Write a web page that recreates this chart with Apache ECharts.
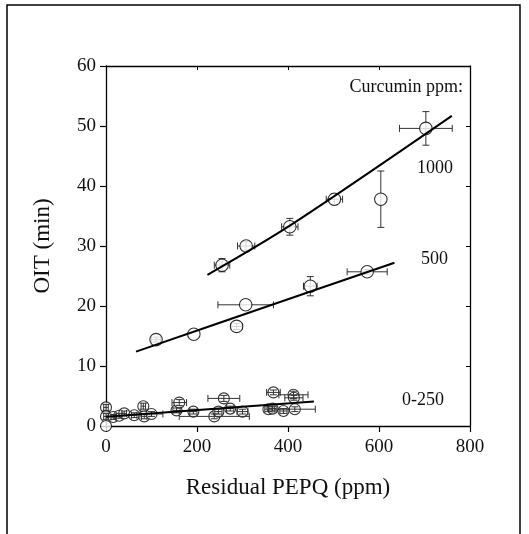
<!DOCTYPE html>
<html>
<head>
<meta charset="utf-8">
<script src="https://cdn.jsdelivr.net/npm/echarts@6/dist/echarts.min.js"></script>
<style>
html,body{margin:0;padding:0;background:#fff;}
#c{width:529px;height:534px;}
</style>
</head>
<body>
<div id="c"></div>
<script>
// ---- data ----
const xTicks = [0, 200, 400, 600, 800];
const yTicks = [0, 10, 20, 30, 40, 50, 60];

// Curcumin 1000 ppm
const s1000_x    = [255, 308, 404, 502, 604, 703];
const s1000_y    = [26.8, 30.0, 33.2, 37.8, 37.8, 49.6];
const s1000_xerr = [17, 19, 18, 18, 0, 58];
const s1000_yerr = [1.1, 0.7, 1.4, 0.9, 4.7, 2.8];

// Curcumin 500 ppm
const s500_x    = [110, 193, 287, 307, 449, 574];
const s500_y    = [14.4, 15.3, 16.6, 20.2, 23.3, 25.7];
const s500_xerr = [10, 0, 12, 61, 15, 44];
const s500_yerr = [0.4, 0, 0.5, 0, 1.6, 0.4];

// Curcumin 0-250 ppm
const s250_x    = [0, 0, 0, 16, 29, 40, 62, 82, 84, 100, 155, 161, 192, 238, 247, 259, 273, 300, 357, 366, 368, 390, 412, 413, 415];
const s250_y    = [3.1, 1.6, 0.0, 1.5, 1.7, 2.1, 1.8, 3.3, 1.6, 2.0, 2.6, 3.9, 2.4, 1.6, 2.4, 4.6, 2.9, 2.4, 2.8, 2.9, 5.6, 2.5, 5.2, 4.7, 2.8];
const s250_xerr = [5, 5, 0, 5, 6, 5, 6, 5, 6, 25, 8, 16, 8, 77, 8, 35, 8, 12, 8, 8, 15, 8, 32, 20, 45];
const s250_yerr = [0.5, 0.5, 0, 0.4, 0.4, 0.4, 0.4, 0.5, 0.4, 0.4, 0.4, 0.5, 0.4, 0.4, 0.4, 0.5, 0.4, 0.4, 0.4, 0.4, 0.4, 0.4, 0.6, 0.4, 0.4];

// fitted lines
const fit1000_x = [223, 404, 760];
const fit1000_y = [25.2, 33.4, 51.7];
const fit500_x  = [66, 368, 634];
const fit500_y  = [12.4, 20.3, 27.2];
const fit250_x  = [0, 457];
const fit250_y  = [1.55, 4.1];

const labelCurcumin = 'Curcumin ppm:';
const groupLabels = ['1000', '500', '0-250'];

// ---- build ----
const FONT = '"Liberation Serif", "Times New Roman", serif';
const zip = (a, b) => a.map((v, i) => [v, b[i]]);
const zip4 = (a, b, c, d) => a.map((v, i) => [v, b[i], c[i], d[i]]);

function errRender(params, api) {
  const x = api.value(0), y = api.value(1), ex = api.value(2), ey = api.value(3);
  const cap = 3.5;
  const st = { stroke: '#333', lineWidth: 1, fill: null };
  const children = [];
  if (ex > 0) {
    const l = api.coord([x - ex, y]), r = api.coord([x + ex, y]);
    children.push({ type: 'line', shape: { x1: l[0], y1: l[1], x2: r[0], y2: r[1] }, style: st });
    children.push({ type: 'line', shape: { x1: l[0], y1: l[1] - cap, x2: l[0], y2: l[1] + cap }, style: st });
    children.push({ type: 'line', shape: { x1: r[0], y1: r[1] - cap, x2: r[0], y2: r[1] + cap }, style: st });
  }
  if (ey > 0) {
    const t = api.coord([x, y + ey]), b = api.coord([x, y - ey]);
    children.push({ type: 'line', shape: { x1: t[0], y1: t[1], x2: b[0], y2: b[1] }, style: st });
    children.push({ type: 'line', shape: { x1: t[0] - cap, y1: t[1], x2: t[0] + cap, y2: t[1] }, style: st });
    children.push({ type: 'line', shape: { x1: b[0] - cap, y1: b[1], x2: b[0] + cap, y2: b[1] }, style: st });
  }
  return { type: 'group', children };
}

function errSeries(x, y, ex, ey, z) {
  return {
    type: 'custom', renderItem: errRender, clip: false, z: z,
    data: zip4(x, y, ex, ey), encode: { x: 0, y: 1 }, silent: true
  };
}
function dotSeries(x, y, size, z) {
  return {
    type: 'scatter', data: zip(x, y), symbol: 'circle', symbolSize: size, clip: false, z: z,
    itemStyle: { color: '#fff', borderColor: '#000', borderWidth: 1.1 }, silent: true
  };
}
function fitSeries(x, y) {
  return {
    type: 'line', data: zip(x, y), smooth: 0.3, showSymbol: false, symbol: 'none', z: 5, clip: false,
    lineStyle: { color: '#000', width: 2 }, silent: true
  };
}

const axisCommon = {
  type: 'value', splitLine: { show: false },
  axisLine: { show: true, onZero: false, lineStyle: { color: '#000', width: 1.3 } }
};

const option = {
  animation: false,
  backgroundColor: '#fff',
  grid: { left: 106, top: 66, width: 364, height: 360, containLabel: false },
  xAxis: [
    Object.assign({}, axisCommon, {
      position: 'bottom', min: xTicks[0], max: xTicks[xTicks.length - 1], interval: xTicks[1] - xTicks[0],
      axisTick: { show: true, inside: false, length: 6, lineStyle: { color: '#000', width: 1.2 } },
      axisLabel: { color: '#111', fontFamily: FONT, fontSize: 19, margin: 12 },
      name: 'Residual PEPQ (ppm)', nameLocation: 'middle', nameGap: 50,
      nameTextStyle: { color: '#111', fontFamily: FONT, fontSize: 23 }
    }),
    Object.assign({}, axisCommon, {
      position: 'top', min: xTicks[0], max: xTicks[xTicks.length - 1], interval: xTicks[1] - xTicks[0],
      axisTick: { show: true, inside: true, length: 4, lineStyle: { color: '#000', width: 1 } },
      axisLabel: { show: false }
    })
  ],
  yAxis: [
    Object.assign({}, axisCommon, {
      position: 'left', min: yTicks[0], max: yTicks[yTicks.length - 1], interval: yTicks[1] - yTicks[0],
      axisTick: { show: true, inside: false, length: 6, lineStyle: { color: '#000', width: 1.2 } },
      axisLabel: { color: '#111', fontFamily: FONT, fontSize: 19, margin: 10 },
      name: 'OIT (min)', nameLocation: 'middle', nameGap: 52,
      nameTextStyle: { color: '#111', fontFamily: FONT, fontSize: 23 }
    }),
    Object.assign({}, axisCommon, {
      position: 'right', min: yTicks[0], max: yTicks[yTicks.length - 1], interval: yTicks[1] - yTicks[0],
      axisTick: { show: true, inside: true, length: 4, lineStyle: { color: '#000', width: 1 } },
      axisLabel: { show: false }
    })
  ],
  series: [
    fitSeries(fit1000_x, fit1000_y),
    fitSeries(fit500_x, fit500_y),
    fitSeries(fit250_x, fit250_y),
    errSeries(s1000_x, s1000_y, s1000_xerr, s1000_yerr, 2),
    dotSeries(s1000_x, s1000_y, 12.5, 3),
    errSeries(s500_x, s500_y, s500_xerr, s500_yerr, 2),
    dotSeries(s500_x, s500_y, 12.5, 3),
    dotSeries(s250_x, s250_y, 11, 3),
    errSeries(s250_x, s250_y, s250_xerr, s250_yerr, 4)
  ],
  graphic: [
    { type: 'rect', shape: { x: 7, y: 5, width: 513, height: 545 }, style: { fill: null, stroke: '#000', lineWidth: 1.5 }, silent: true },
    { type: 'text', x: 463, y: 87, style: { text: labelCurcumin, font: '18px ' + FONT, fill: '#111', align: 'right', verticalAlign: 'middle' } },
    { type: 'text', x: 453, y: 168, style: { text: groupLabels[0], font: '18px ' + FONT, fill: '#111', align: 'right', verticalAlign: 'middle' } },
    { type: 'text', x: 448, y: 259, style: { text: groupLabels[1], font: '18px ' + FONT, fill: '#111', align: 'right', verticalAlign: 'middle' } },
    { type: 'text', x: 444, y: 400, style: { text: groupLabels[2], font: '18px ' + FONT, fill: '#111', align: 'right', verticalAlign: 'middle' } }
  ]
};

const chart = echarts.init(document.getElementById('c'), null, { renderer: 'canvas' });
chart.setOption(option);
</script>
</body>
</html>
